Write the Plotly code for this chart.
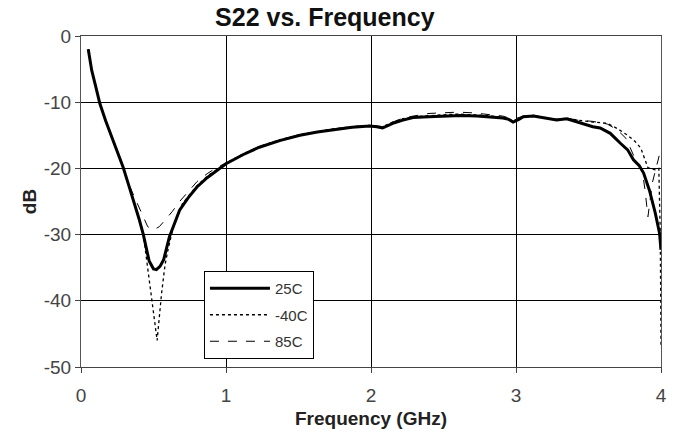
import plotly.graph_objects as go

# 25C (solid)
f_25 = [0.05, 0.074, 0.10, 0.13, 0.17, 0.21, 0.25, 0.29, 0.33, 0.37, 0.40, 0.43, 0.47, 0.50, 0.52, 0.545,
        0.57, 0.61, 0.68, 0.74, 0.80, 0.87, 1.00, 1.12, 1.23, 1.37, 1.51, 1.63, 1.75, 1.87, 1.99, 2.04,
        2.08, 2.15, 2.22, 2.29, 2.40, 2.50, 2.62, 2.73, 2.82, 2.91, 2.95, 2.98, 3.02, 3.05, 3.12, 3.19,
        3.28, 3.35, 3.42, 3.53, 3.58, 3.65, 3.72, 3.77, 3.81, 3.85, 3.88, 3.92, 3.96, 3.99, 4.00]
db_25 = [-2.0, -5.2, -7.5, -10.2, -12.8, -15.2, -17.6, -19.8, -22.6, -25.4, -27.6, -30.0, -34.0, -35.2, -35.3, -34.8,
         -33.8, -30.3, -26.3, -24.4, -22.8, -21.4, -19.3, -17.9, -16.8, -15.8, -15.0, -14.5, -14.1, -13.8, -13.6, -13.7,
         -13.9, -13.2, -12.7, -12.3, -12.2, -12.1, -12.0, -12.1, -12.2, -12.4, -12.6, -13.0, -12.6, -12.2, -12.1, -12.4,
         -12.7, -12.5, -13.0, -13.7, -13.9, -14.7, -16.2, -17.2, -18.7, -19.6, -20.7, -23.3, -26.7, -29.8, -32.3]

# -40C (dotted)
f_m40 = [0.05, 0.074, 0.10, 0.13, 0.17, 0.21, 0.25, 0.29, 0.33, 0.37, 0.40, 0.43, 0.45, 0.48, 0.50, 0.525,
         0.54, 0.555, 0.58, 0.60, 0.64, 0.70, 0.80, 0.87, 1.00, 1.12, 1.23, 1.37, 1.51, 1.63, 1.75, 1.87,
         1.99, 2.04, 2.08, 2.15, 2.22, 2.29, 2.40, 2.50, 2.60, 2.70, 2.80, 2.91, 2.98, 3.05, 3.12, 3.19,
         3.28, 3.35, 3.42, 3.53, 3.63, 3.70, 3.77, 3.82, 3.86, 3.91, 3.96, 3.985, 3.995, 4.00]
db_m40 = [-2.0, -5.2, -7.5, -10.2, -12.8, -15.2, -17.6, -19.8, -22.6, -25.4, -27.6, -30.0, -33.4, -38.5, -42.0, -46.0,
          -42.5, -39.0, -34.5, -32.3, -28.5, -25.3, -22.6, -21.2, -19.2, -17.8, -16.7, -15.7, -14.9, -14.4, -14.0, -13.7,
          -13.5, -13.6, -13.7, -13.0, -12.5, -12.2, -12.0, -11.9, -11.8, -11.9, -12.0, -12.3, -12.8, -12.2, -12.0, -12.3,
          -12.6, -12.4, -12.7, -13.0, -13.2, -14.0, -15.0, -15.9, -16.9, -19.9, -20.2, -20.0, -30.0, -47.0]

# 85C (dashed)
f_85 = [0.05, 0.074, 0.10, 0.13, 0.17, 0.21, 0.25, 0.29, 0.33, 0.37, 0.39, 0.42, 0.46, 0.50, 0.54, 0.58,
        0.63, 0.68, 0.73, 0.80, 0.87, 0.94, 1.00, 1.12, 1.23, 1.37, 1.51, 1.63, 1.75, 1.87, 1.99, 2.04,
        2.08, 2.15, 2.22, 2.29, 2.40, 2.50, 2.60, 2.70, 2.80, 2.91, 2.98, 3.05, 3.12, 3.19, 3.28, 3.35,
        3.42, 3.53, 3.63, 3.70, 3.76, 3.82, 3.87, 3.89, 3.91, 3.94, 3.97, 4.00]
db_85 = [-2.0, -5.2, -7.5, -10.2, -12.8, -15.2, -17.6, -19.8, -22.4, -24.4, -25.4, -27.0, -28.8, -29.3, -28.8, -27.8,
         -26.5, -25.0, -23.7, -22.0, -20.8, -19.8, -19.2, -17.8, -16.7, -15.7, -14.9, -14.4, -14.0, -13.7,
         -13.5, -13.6, -13.7, -13.0, -12.4, -12.1, -11.7, -11.6, -11.5, -11.6, -11.8, -12.1, -12.6, -12.1, -12.0, -12.3,
         -12.6, -12.4, -12.7, -12.9, -13.3, -14.2, -15.5, -18.5, -20.2, -23.3, -27.3, -22.2, -19.8, -17.0]

x_ticks = [0, 1, 2, 3, 4]
y_ticks = [0, -10, -20, -30, -40, -50]

FONT = "Liberation Sans, Arial, sans-serif"

fig = go.Figure()
fig.add_trace(go.Scatter(x=f_25, y=db_25, mode="lines", name="25C", legendgroup="a",
                         line=dict(color="black", width=3)))
fig.add_trace(go.Scatter(x=f_m40, y=db_m40, mode="lines", name="-40C", legendgroup="b",
                         line=dict(color="black", width=1.3, dash="dot")))
fig.add_trace(go.Scatter(x=f_85, y=db_85, mode="lines", name="85C", legendgroup="c",
                         line=dict(color="black", width=1, dash="dash")))

fig.update_layout(
    width=681, height=436,
    margin=dict(l=81, r=20, t=36, b=69),
    paper_bgcolor="white", plot_bgcolor="white",
    title=dict(text="<b>S22 vs. Frequency</b>", x=0.477, xanchor="center", y=0.96, yanchor="middle",
               font=dict(family=FONT, size=25, color="#111")),
    font=dict(family=FONT, size=14, color="#333"),
    showlegend=True,
    legend=dict(x=0.212, y=0.29, xanchor="left", yanchor="top",
                bordercolor="black", borderwidth=1, bgcolor="white",
                font=dict(family=FONT, size=15, color="#333"),
                tracegroupgap=4, itemwidth=60),
)
fig.update_xaxes(range=[0, 4], tickvals=x_ticks, ticktext=[str(v) for v in x_ticks],
                 showgrid=True, gridcolor="black", gridwidth=1, zeroline=False,
                 showline=True, linecolor="#444", linewidth=1, mirror=True,
                 ticks="outside", ticklen=5, tickcolor="#444", ticklabelstandoff=6,
                 tickfont=dict(family=FONT, size=19, color="#444"),
                 title=dict(text="<b>Frequency (GHz)</b>", font=dict(family=FONT, size=19, color="#222"), standoff=6))
fig.update_yaxes(range=[-50, 0], tickvals=y_ticks, ticktext=[str(v) for v in y_ticks],
                 showgrid=True, gridcolor="black", gridwidth=1, zeroline=False,
                 showline=True, linecolor="#555", linewidth=1, mirror=True,
                 ticks="outside", ticklen=5, tickcolor="#444",
                 tickfont=dict(family=FONT, size=19, color="#444"),
                 title=dict(text="<b>dB</b>", font=dict(family=FONT, size=19, color="#222"), standoff=2))

fig.write_html("out.html")
